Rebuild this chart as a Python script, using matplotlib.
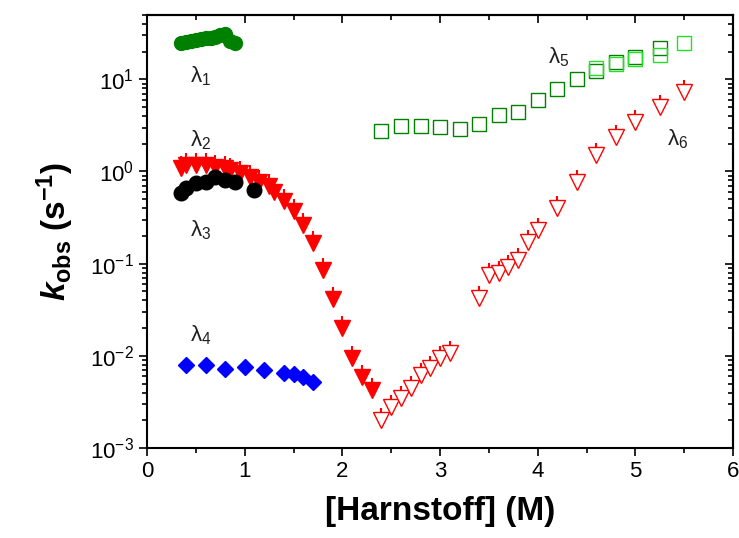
import matplotlib
matplotlib.use("Agg")
import matplotlib.pyplot as plt
from matplotlib.path import Path
from matplotlib.ticker import LogLocator, MultipleLocator, NullFormatter

plt.rcParams['font.family'] = ['Liberation Sans', 'DejaVu Sans']
plt.rcParams['mathtext.default'] = 'regular'
plt.rcParams['mathtext.fontset'] = 'custom'
plt.rcParams['mathtext.it'] = 'Liberation Sans:italic:bold'

# lambda 1 (filled green)
urea_l1 = [0.35, 0.4, 0.45, 0.5, 0.55, 0.6, 0.65, 0.7, 0.75, 0.8, 0.85, 0.9]
k_l1 = [25, 25.5, 26, 27, 27.5, 28, 28, 29, 30, 31, 26, 25]

# lambda 2 (filled red triangles)
urea_l2 = [0.35, 0.4, 0.5, 0.6, 0.7, 0.8, 0.85, 0.95, 1.05, 1.15, 1.25, 1.3,
           1.4, 1.5, 1.6, 1.7, 1.8, 1.9, 2.0, 2.1, 2.2, 2.3]
k_l2 = [1.1, 1.17, 1.18, 1.18, 1.12, 1.08, 1.03, 0.96, 0.87, 0.77, 0.70, 0.60,
        0.48, 0.37, 0.26, 0.167, 0.085, 0.041, 0.020, 0.0095, 0.0059, 0.0043]

# lambda 3 (black circles)
urea_l3 = [0.35, 0.4, 0.5, 0.6, 0.7, 0.8, 0.9, 1.1]
k_l3 = [0.58, 0.66, 0.75, 0.77, 0.87, 0.81, 0.77, 0.63]

# lambda 4 (blue diamonds)
urea_l4 = [0.4, 0.6, 0.8, 1.0, 1.2, 1.4, 1.5, 1.6, 1.7]
k_l4 = [0.0079, 0.0079, 0.0072, 0.0075, 0.0070, 0.0065, 0.0063, 0.0059, 0.0052]

# lambda 5 (open squares, two shades)
urea_l5 = [2.4, 2.6, 2.8, 3.0, 3.2, 3.4, 3.6, 3.8, 4.0, 4.2, 4.4, 4.6, 4.8, 5.0, 5.25]
k_l5 = [2.74, 3.1, 3.1, 3.03, 2.88, 3.27, 4.09, 4.41, 5.94, 7.83, 10.0, 12.3, 15.5, 17.5, 21.9]
urea_l5b = [4.6, 4.8, 5.0, 5.25, 5.5]
k_l5b = [13.2, 14.5, 16.5, 18.3, 24.7]

# lambda 6 (open red triangles)
urea_l6 = [2.4, 2.5, 2.6, 2.7, 2.8, 2.9, 3.0, 3.1, 3.4, 3.5, 3.6, 3.7, 3.8, 3.9,
           4.0, 4.2, 4.4, 4.6, 4.8, 5.0, 5.25, 5.5]
k_l6 = [0.0020, 0.0028, 0.0035, 0.0045, 0.0062, 0.0074, 0.0095, 0.0107, 0.042,
        0.075, 0.079, 0.092, 0.109, 0.171, 0.23, 0.40, 0.77, 1.51, 2.36, 3.43, 5.0, 7.3]

labels = ['$\\lambda_1$', '$\\lambda_2$', '$\\lambda_3$', '$\\lambda_4$', '$\\lambda_5$', '$\\lambda_6$']
label_x = [0.44, 0.44, 0.44, 0.44, 4.10, 5.32]
label_y = [10.7, 2.2, 0.23, 0.0168, 17.4, 2.24]

# short error-bar stem sitting on top of the triangles
stem = Path([(0, 0.6), (0, 1.0)])

fig = plt.figure(figsize=(7.39, 5.38), dpi=100)
ax = fig.add_axes([0.199, 0.1673, 0.793, 0.805])

ax.plot(urea_l1, k_l1, ls='none', marker='o', ms=10, color='#008000', zorder=3)

ax.plot(urea_l2, k_l2, ls='none', marker=stem, ms=18, mfc='none', mec='red', mew=1.5, zorder=3)
ax.plot(urea_l2, k_l2, ls='none', marker='v', ms=11, color='red', zorder=3)

ax.plot(urea_l3, k_l3, ls='none', marker='o', ms=10.5, color='black', zorder=4)
ax.plot(urea_l4, k_l4, ls='none', marker='D', ms=8.5, color='#0000ff', zorder=3)

ax.plot(urea_l5, k_l5, ls='none', marker='s', ms=9.5, mfc='none', mec='#008000', mew=1.0, zorder=3)
ax.plot(urea_l5b, k_l5b, ls='none', marker='s', ms=9.5, mfc='none', mec='#22e022', mew=1.0, zorder=3)

ax.plot(urea_l6, k_l6, ls='none', marker=stem, ms=18, mfc='none', mec='red', mew=1.5, zorder=3)
ax.plot(urea_l6, k_l6, ls='none', marker='v', ms=11, mfc='white', mec='red', mew=1.0, zorder=3)

for t, x, y in zip(labels, label_x, label_y):
    ax.text(x, y, t, fontsize=16, ha='left', va='center', color='#202020')

ax.set_yscale('log')
ax.set_xlim(0, 6)
ax.set_ylim(1e-3, 50)

ax.xaxis.set_major_locator(MultipleLocator(1))
ax.xaxis.set_minor_locator(MultipleLocator(0.5))
ax.yaxis.set_major_locator(LogLocator(base=10, numticks=10))
ax.yaxis.set_minor_locator(LogLocator(base=10, subs=range(2, 10), numticks=20))
ax.yaxis.set_minor_formatter(NullFormatter())

ax.tick_params(which='both', direction='out', width=1.2, labelsize=16)
ax.tick_params(which='major', length=6)
ax.tick_params(which='minor', length=3.5)
for s in ax.spines.values():
    s.set_linewidth(1.5)

top = ax.secondary_xaxis('top')
top.xaxis.set_major_locator(MultipleLocator(1))
top.xaxis.set_minor_locator(MultipleLocator(0.5))
top.tick_params(which='both', direction='in', labeltop=False, width=1.2)
top.tick_params(which='major', length=6)
top.tick_params(which='minor', length=3.5)
top.spines['top'].set_linewidth(1.5)

right = ax.secondary_yaxis('right')
right.yaxis.set_major_locator(LogLocator(base=10, numticks=10))
right.yaxis.set_minor_locator(LogLocator(base=10, subs=range(2, 10), numticks=20))
right.yaxis.set_minor_formatter(NullFormatter())
right.tick_params(which='both', direction='in', labelright=False, width=1.2)
right.tick_params(which='major', length=6)
right.tick_params(which='minor', length=3.5)
right.spines['right'].set_linewidth(1.5)

ax.set_xlabel('[Harnstoff] (M)', fontsize=24, fontweight='bold', labelpad=10)
ax.set_ylabel('$\\mathit{k}_{obs}$ (s$^{-1}$)', fontsize=24, fontweight='bold', labelpad=10)

fig.savefig('out.png', dpi=100)
